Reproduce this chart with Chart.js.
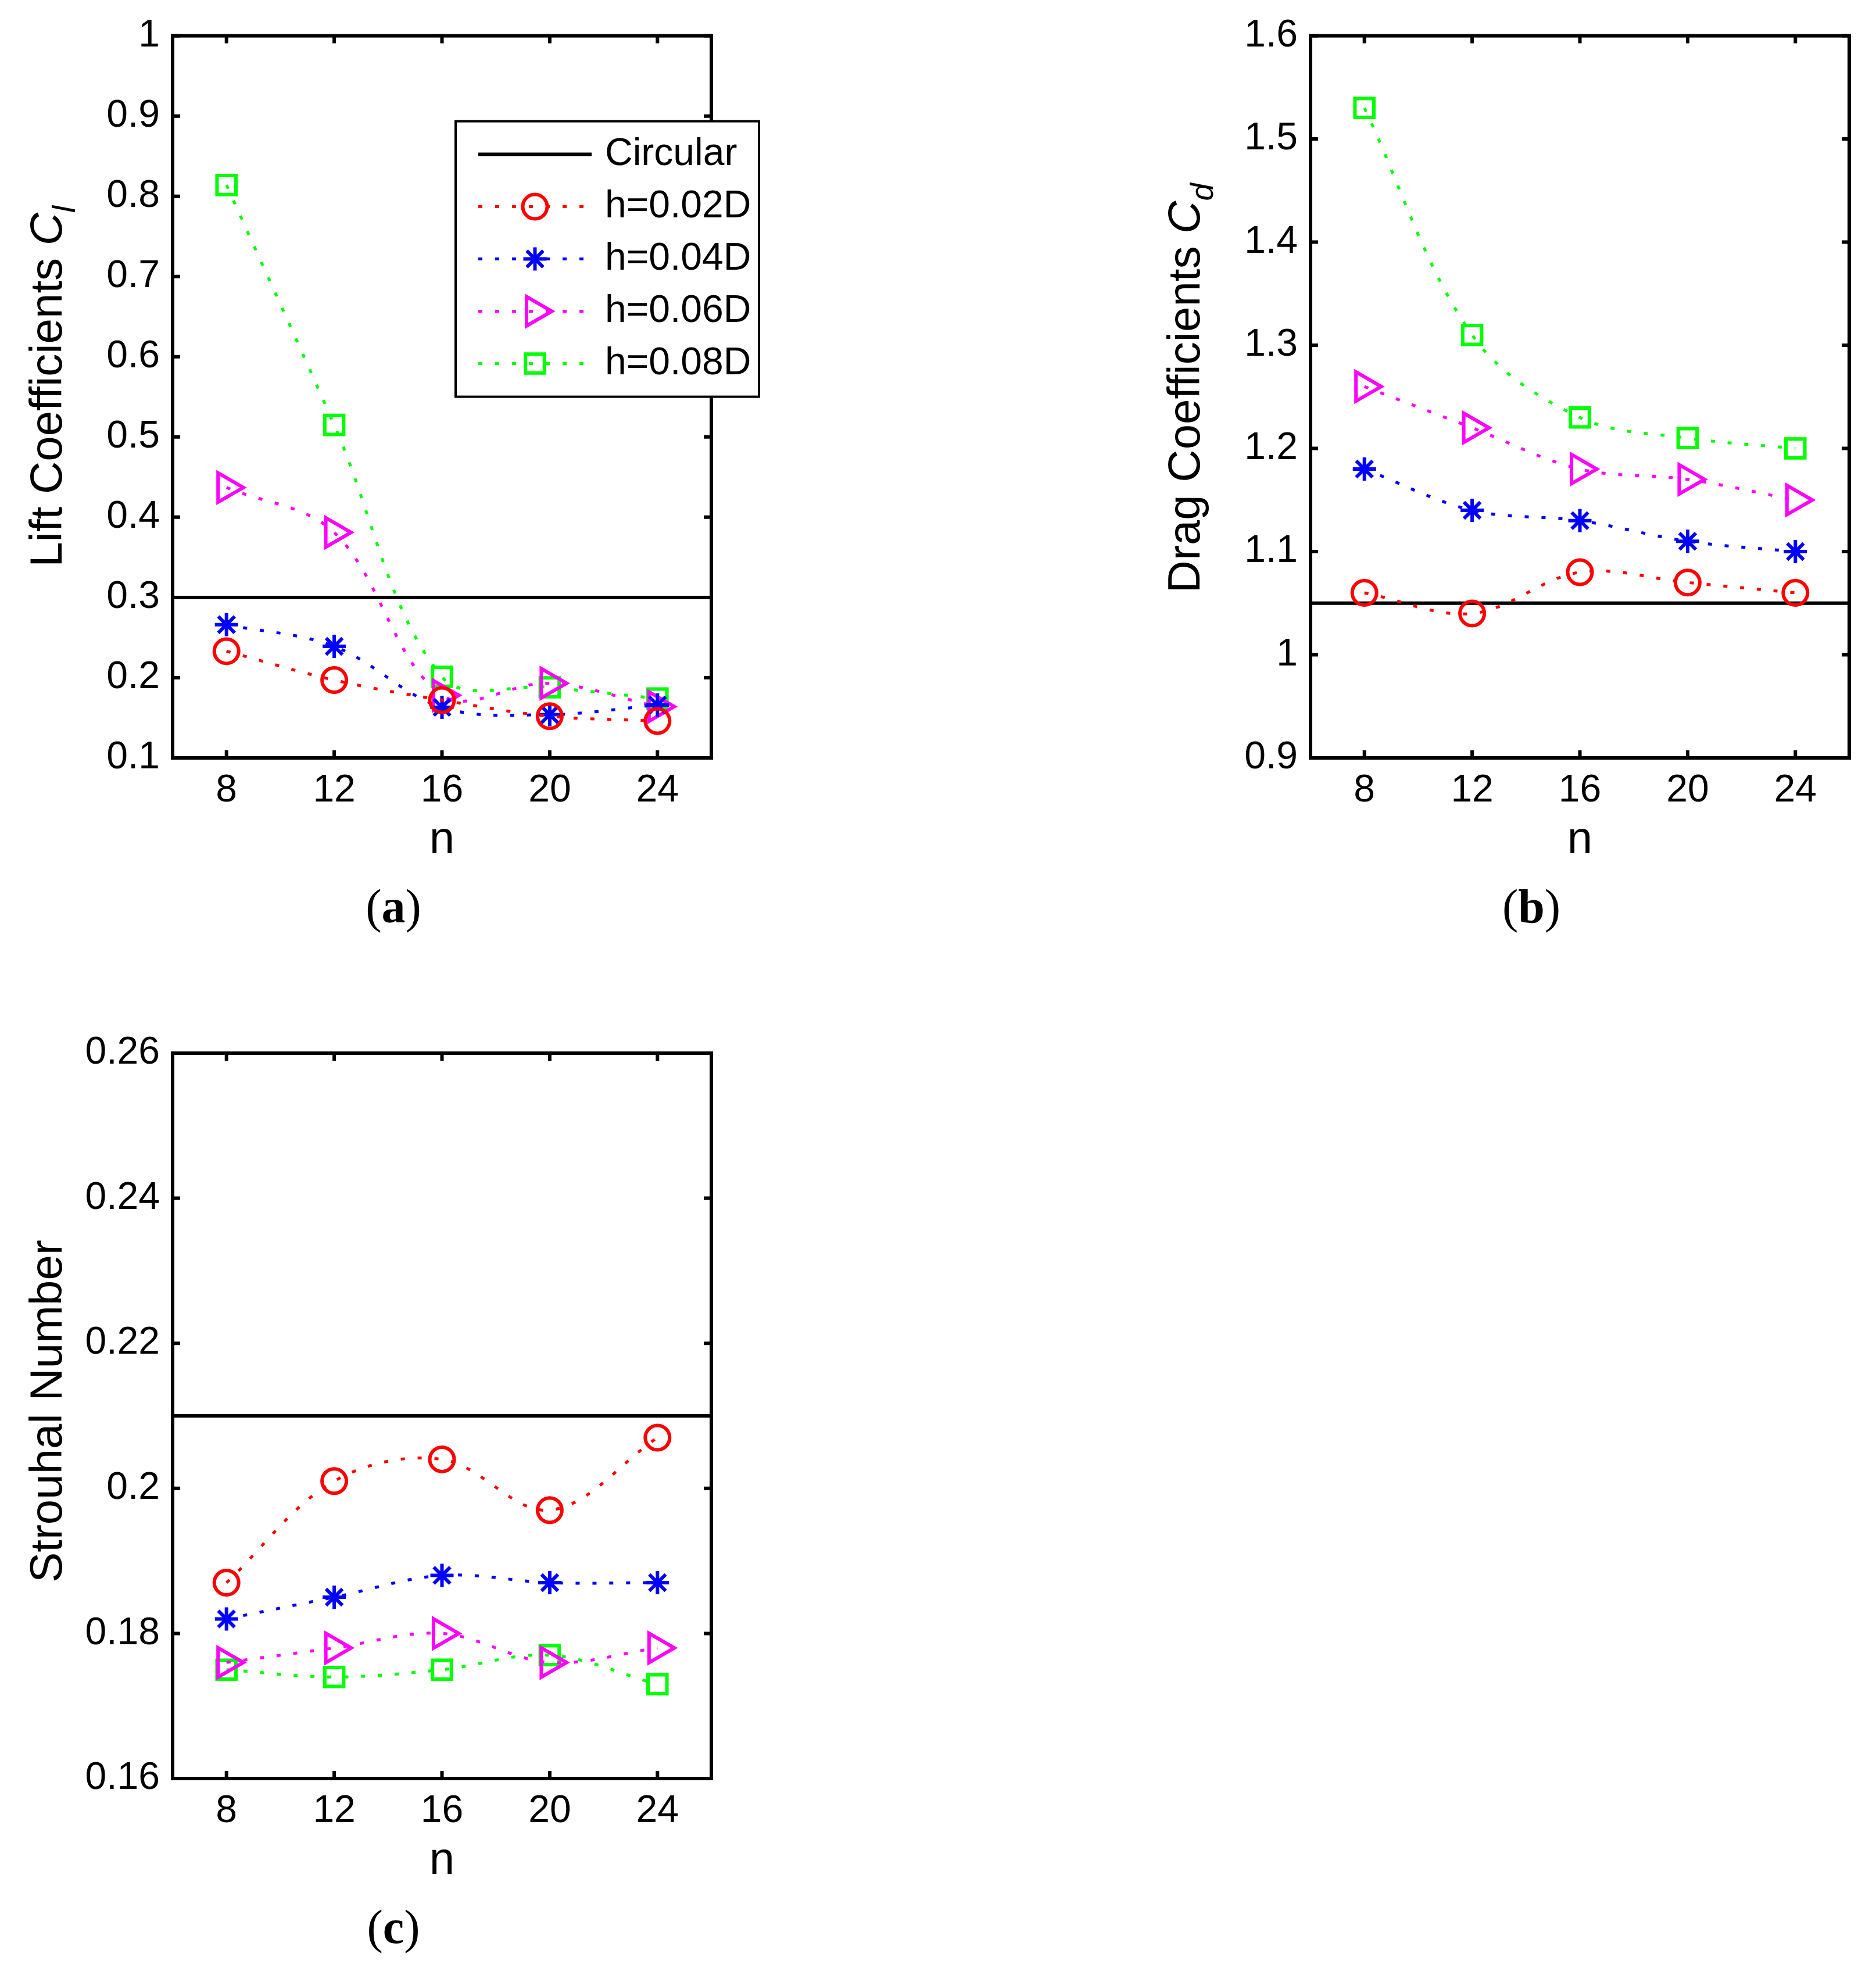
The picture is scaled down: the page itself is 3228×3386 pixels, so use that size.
<!DOCTYPE html>
<html>
<head>
<meta charset="utf-8">
<script src="https://cdn.jsdelivr.net/npm/chart.js@4.4.1/dist/chart.umd.min.js"></script>
<style>
    html, body { margin: 0; padding: 0; background: #ffffff; }
    body { width: 3228px; height: 3386px; position: relative; overflow: hidden; }
    .panel { position: absolute; width: 1614px; height: 1693px; }
    .panel canvas { display: block; }
</style>
</head>
<body>
<div class="panel" style="left:0;top:0"><canvas id="graficaLift" width="1614" height="1693"></canvas></div>
<div class="panel" style="left:1614px;top:0"><canvas id="graficaDrag" width="1614" height="1693"></canvas></div>
<div class="panel" style="left:0;top:1693px"><canvas id="graficaStrouhal" width="1614" height="1693"></canvas></div>
<script>
// Valores de n (eje x) y marcas
const valoresN = [8, 12, 16, 20, 24];
const ticksX = [8, 12, 16, 20, 24];
const rangoX = [6, 26];

const etiquetasSeries = ['h=0.02D', 'h=0.04D', 'h=0.06D', 'h=0.08D'];
const etiquetaCircular = 'Circular';

// (a) Coeficientes de sustentación
const liftH002 = [0.233, 0.197, 0.172, 0.152, 0.146];
const liftH004 = [0.266, 0.239, 0.163, 0.154, 0.166];
const liftH006 = [0.437, 0.381, 0.178, 0.193, 0.164];
const liftH008 = [0.814, 0.515, 0.201, 0.188, 0.174];
const liftCircular = 0.3;
const ticksLift = [0.1, 0.2, 0.3, 0.4, 0.5, 0.6, 0.7, 0.8, 0.9, 1];

// (b) Coeficientes de arrastre
const dragH002 = [1.06, 1.04, 1.08, 1.07, 1.06];
const dragH004 = [1.18, 1.14, 1.13, 1.11, 1.10];
const dragH006 = [1.26, 1.22, 1.18, 1.17, 1.15];
const dragH008 = [1.53, 1.31, 1.23, 1.21, 1.20];
const dragCircular = 1.05;
const ticksDrag = [0.9, 1, 1.1, 1.2, 1.3, 1.4, 1.5, 1.6];

// (c) Número de Strouhal
const stH002 = [0.187, 0.201, 0.204, 0.197, 0.207];
const stH004 = [0.182, 0.185, 0.188, 0.187, 0.187];
const stH006 = [0.176, 0.178, 0.180, 0.176, 0.178];
const stH008 = [0.175, 0.174, 0.175, 0.177, 0.173];
const stCircular = 0.21;
const ticksStrouhal = [0.16, 0.18, 0.2, 0.22, 0.24, 0.26];

// Estilos de las series (color y marcador estilo MATLAB)
const estilosSeries = [
    { color: '#ff0000', punto: 'circle', radio: 21, giro: 0 },
    { color: '#0000ff', punto: 'star', radio: 20, giro: 0 },
    { color: '#ff00ff', punto: 'triangle', radio: 29, giro: 90 },
    { color: '#00ff00', punto: 'rect', radio: 23, giro: 0 }
];

const FUENTE = '"Liberation Sans", Arial, Helvetica, sans-serif';
const FUENTE_SERIF = '"Liberation Serif", "Times New Roman", serif';
const PATRON_PUNTEADO = [7, 22];

// Dibuja un marcador con la función de Chart.js (o a mano si no existe)
function dibujarMarcador(ctx, estilo, x, y) {
    ctx.save();
    ctx.strokeStyle = estilo.color;
    ctx.fillStyle = 'rgba(0,0,0,0)';
    ctx.lineWidth = 6;
    ctx.setLineDash([]);
    if (Chart.helpers && Chart.helpers.drawPoint) {
        Chart.helpers.drawPoint(ctx, {
            pointStyle: estilo.punto,
            radius: estilo.radio,
            rotation: estilo.giro,
            borderWidth: 6
        }, x, y);
    } else {
        ctx.beginPath();
        ctx.arc(x, y, estilo.radio, 0, Math.PI * 2);
        ctx.stroke();
    }
    ctx.restore();
}

// Plugin: caja de ejes, marcas hacia dentro, títulos, leyenda y subtítulo
const pluginMarco = {
    id: 'marco',
    afterDraw(chart, args, opts) {
        const ctx = chart.ctx;
        const area = chart.chartArea;
        const escX = chart.scales.x;
        const escY = chart.scales.y;
        ctx.save();

        // Marcas hacia dentro en los cuatro lados
        ctx.strokeStyle = '#000';
        ctx.lineWidth = 6;
        ctx.setLineDash([]);
        ctx.beginPath();
        escX.ticks.forEach(t => {
            const px = escX.getPixelForValue(t.value);
            ctx.moveTo(px, area.bottom);
            ctx.lineTo(px, area.bottom - 13);
            ctx.moveTo(px, area.top);
            ctx.lineTo(px, area.top + 13);
        });
        escY.ticks.forEach(t => {
            const py = escY.getPixelForValue(t.value);
            ctx.moveTo(area.left, py);
            ctx.lineTo(area.left + 13, py);
            ctx.moveTo(area.right, py);
            ctx.lineTo(area.right - 13, py);
        });
        ctx.stroke();

        // Caja
        ctx.lineWidth = 6;
        ctx.lineJoin = 'miter';
        ctx.strokeRect(area.left, area.top, area.right - area.left, area.bottom - area.top);

        // Leyenda (solo en el panel a)
        if (opts.leyenda) {
            const lx = area.left + 487;
            const ly = area.top + 147;
            const ancho = 522;
            const alto = 474;
            ctx.fillStyle = '#ffffff';
            ctx.fillRect(lx, ly, ancho, alto);
            ctx.lineWidth = 4;
            ctx.strokeStyle = '#000';
            ctx.strokeRect(lx, ly, ancho, alto);

            const filas = [57, 147, 237, 327, 417];
            const x0 = lx + 39;
            const x1 = lx + 234;
            const xm = (x0 + x1) / 2;

            // Circular
            ctx.beginPath();
            ctx.lineWidth = 6;
            ctx.moveTo(x0, ly + filas[0]);
            ctx.lineTo(x1, ly + filas[0]);
            ctx.stroke();

            ctx.font = '66px ' + FUENTE;
            ctx.fillStyle = '#000';
            ctx.textBaseline = 'middle';
            ctx.textAlign = 'left';
            ctx.fillText(etiquetaCircular, lx + 257, ly + filas[0]);

            estilosSeries.forEach((est, i) => {
                const fy = ly + filas[i + 1];
                ctx.beginPath();
                ctx.strokeStyle = est.color;
                ctx.lineWidth = 5;
                ctx.setLineDash(PATRON_PUNTEADO);
                ctx.moveTo(x0, fy);
                ctx.lineTo(x1, fy);
                ctx.stroke();
                ctx.setLineDash([]);
                dibujarMarcador(ctx, est, xm, fy);
                ctx.fillStyle = '#000';
                ctx.fillText(etiquetasSeries[i], lx + 257, fy);
            });
        }

        // Título del eje y (rotado), con partes en cursiva y subíndice
        const tam = 78;
        const partes = opts.tituloY;
        const medir = p => {
            const t = p.sub ? tam * 0.7 : tam;
            ctx.font = (p.cursiva ? 'italic ' : '') + t + 'px ' + FUENTE;
            return ctx.measureText(p.texto).width;
        };
        const total = partes.reduce((s, p) => s + medir(p), 0);
        ctx.save();
        ctx.translate(area.left - 191, (area.top + area.bottom) / 2 + opts.desfaseY);
        ctx.rotate(-Math.PI / 2);
        ctx.fillStyle = '#000';
        ctx.textBaseline = 'alphabetic';
        ctx.textAlign = 'left';
        let cx = -total / 2;
        partes.forEach(p => {
            const w = medir(p);
            ctx.fillText(p.texto, cx, p.sub ? tam * 0.3 : 0);
            cx += w;
        });
        ctx.restore();

        // Título del eje x
        ctx.font = tam + 'px ' + FUENTE;
        ctx.fillStyle = '#000';
        ctx.textAlign = 'center';
        ctx.textBaseline = 'alphabetic';
        ctx.fillText('n', (area.left + area.right) / 2, area.bottom + 164);

        // Subtítulo (a), (b), (c)
        const cxs = area.left + 380;
        const base = area.bottom + 283;
        ctx.font = '82px ' + FUENTE_SERIF;
        const wAbre = ctx.measureText('(').width;
        ctx.font = 'bold 82px ' + FUENTE_SERIF;
        const wLetra = ctx.measureText(opts.subtitulo).width;
        const wTotal = wAbre * 2 + wLetra;
        ctx.textAlign = 'left';
        ctx.font = '82px ' + FUENTE_SERIF;
        ctx.fillText('(', cxs - wTotal / 2, base);
        ctx.fillText(')', cxs - wTotal / 2 + wAbre + wLetra, base);
        ctx.font = 'bold 82px ' + FUENTE_SERIF;
        ctx.fillText(opts.subtitulo, cxs - wTotal / 2 + wAbre, base);

        ctx.restore();
    }
};

// Da formato a las marcas: 1, 0.9, 0.16 ...
function formatoMarca(v) {
    return String(parseFloat(Number(v).toFixed(3)));
}

// Crea un panel con las cuatro series y la línea del cilindro circular
function crearPanel(idCanvas, area, listaSeries, valorCircular, ticksY, tituloY, desfaseY, subtitulo, conLeyenda) {
    const canvas = document.getElementById(idCanvas);
    const W = canvas.width;
    const H = canvas.height;
    const ALTO_EJE_X = 100;

    const datasets = listaSeries.map((valores, i) => {
        const est = estilosSeries[i];
        return {
            label: etiquetasSeries[i],
            data: valoresN.map((n, k) => ({ x: n, y: valores[k] })),
            borderColor: est.color,
            backgroundColor: 'rgba(0,0,0,0)',
            borderWidth: 5,
            borderDash: PATRON_PUNTEADO,
            tension: 0.35,
            fill: false,
            pointStyle: est.punto,
            pointRadius: est.radio,
            pointHoverRadius: est.radio,
            pointRotation: est.giro,
            pointBorderColor: est.color,
            pointBackgroundColor: 'rgba(0,0,0,0)',
            pointBorderWidth: 6
        };
    });

    datasets.push({
        label: etiquetaCircular,
        data: [{ x: rangoX[0], y: valorCircular }, { x: rangoX[1], y: valorCircular }],
        borderColor: '#000000',
        borderWidth: 6,
        pointRadius: 0,
        tension: 0,
        fill: false
    });

    return new Chart(canvas.getContext('2d'), {
        type: 'line',
        data: { datasets: datasets },
        options: {
            responsive: false,
            animation: false,
            devicePixelRatio: 1,
            events: [],
            layout: {
                padding: {
                    left: 0,
                    top: area.arr,
                    right: W - area.der,
                    bottom: H - area.aba - ALTO_EJE_X
                }
            },
            plugins: {
                legend: { display: false },
                tooltip: { enabled: false },
                marco: {
                    leyenda: conLeyenda,
                    tituloY: tituloY,
                    desfaseY: desfaseY,
                    subtitulo: subtitulo
                }
            },
            scales: {
                x: {
                    type: 'linear',
                    min: rangoX[0],
                    max: rangoX[1],
                    grid: { display: false, drawTicks: false },
                    border: { display: false },
                    ticks: {
                        color: '#000',
                        padding: 17,
                        font: { family: FUENTE, size: 66 },
                        callback: v => formatoMarca(v)
                    },
                    afterBuildTicks: escala => {
                        escala.ticks = ticksX.map(v => ({ value: v }));
                    },
                    afterFit: escala => { escala.height = ALTO_EJE_X; }
                },
                y: {
                    type: 'linear',
                    min: ticksY[0],
                    max: ticksY[ticksY.length - 1],
                    grid: { display: false, drawTicks: false },
                    border: { display: false },
                    ticks: {
                        color: '#000',
                        padding: 22,
                        font: { family: FUENTE, size: 66 },
                        callback: v => formatoMarca(v)
                    },
                    afterBuildTicks: escala => {
                        escala.ticks = ticksY.map(v => ({ value: v }));
                    },
                    afterFit: escala => { escala.width = area.izq; }
                }
            }
        },
        plugins: [pluginMarco]
    });
}

document.addEventListener('DOMContentLoaded', () => {
    crearPanel('graficaLift',
        { izq: 297, arr: 55, der: 1224, aba: 1304 },
        [liftH002, liftH004, liftH006, liftH008], liftCircular, ticksLift,
        [{ texto: 'Lift Coefficients ' }, { texto: 'C', cursiva: true }, { texto: 'l', cursiva: true, sub: true }],
        -18, 'a', true);

    crearPanel('graficaDrag',
        { izq: 641, arr: 55, der: 1568, aba: 1304 },
        [dragH002, dragH004, dragH006, dragH008], dragCircular, ticksDrag,
        [{ texto: 'Drag Coefficients ' }, { texto: 'C', cursiva: true }, { texto: 'd', cursiva: true, sub: true }],
        -15, 'b', false);

    crearPanel('graficaStrouhal',
        { izq: 297, arr: 119, der: 1224, aba: 1367 },
        [stH002, stH004, stH006, stH008], stCircular, ticksStrouhal,
        [{ texto: 'Strouhal Number' }],
        -8, 'c', false);
});
</script>
</body>
</html>
